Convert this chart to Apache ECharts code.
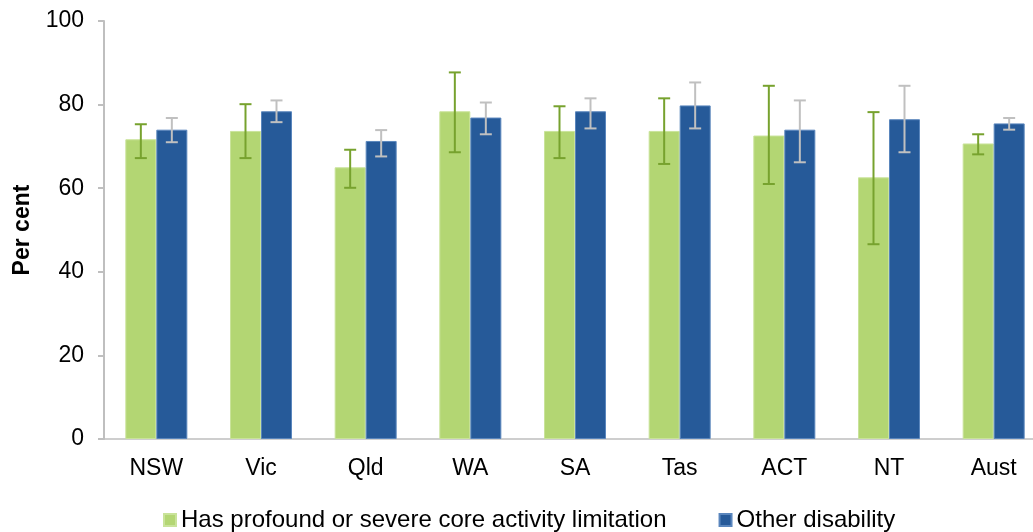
<!DOCTYPE html>
<html>
<head>
<meta charset="utf-8">
<script src="https://cdn.jsdelivr.net/npm/echarts@6/dist/echarts.min.js"></script>
<style>html,body{margin:0;padding:0;background:#fff;overflow:hidden;width:1033px;height:532px;}#c{width:1060px;height:532px;}</style>
</head>
<body>
<div id="c"></div>
<script>
const categories = ['NSW', 'Vic', 'Qld', 'WA', 'SA', 'Tas', 'ACT', 'NT', 'Aust'];
const profound = [71.7, 73.7, 65.0, 78.4, 73.7, 73.7, 72.6, 62.6, 70.7];
const profoundLow = [67.2, 67.2, 60.1, 68.6, 67.2, 65.8, 61.0, 46.6, 68.1];
const profoundHigh = [75.3, 80.1, 69.2, 87.7, 79.6, 81.5, 84.5, 78.2, 72.9];
const other = [74.0, 78.4, 71.3, 76.9, 78.4, 79.8, 74.0, 76.5, 75.5];
const otherLow = [71.0, 75.8, 67.6, 72.9, 74.3, 74.3, 66.2, 68.6, 74.0];
const otherHigh = [76.8, 81.0, 73.9, 80.5, 81.5, 85.3, 81.0, 84.5, 76.8];
const yTicks = [0, 20, 40, 60, 80, 100];

const BAR_W = 31;
const FONT = 'Liberation Sans, Arial, sans-serif';

function errData(low, high) {
  return categories.map((c, i) => [i, low[i], high[i]]);
}
function errRender(offset, color) {
  return function (params, api) {
    const i = api.value(0);
    const lo = api.coord([i, api.value(1)]);
    const hi = api.coord([i, api.value(2)]);
    const x = lo[0] + offset;
    const cap = 6;
    const style = { stroke: color, lineWidth: 2 };
    return {
      type: 'group',
      children: [
        { type: 'line', shape: { x1: x, y1: lo[1], x2: x, y2: hi[1] }, style: style },
        { type: 'line', shape: { x1: x - cap, y1: lo[1], x2: x + cap, y2: lo[1] }, style: style },
        { type: 'line', shape: { x1: x - cap, y1: hi[1], x2: x + cap, y2: hi[1] }, style: style }
      ]
    };
  };
}

const chart = echarts.init(document.getElementById('c'), null, { renderer: 'canvas' });
chart.setOption({
  animation: false,
  backgroundColor: '#ffffff',
  textStyle: { fontFamily: FONT },
  grid: { left: 104, top: 21, width: 942, height: 418, containLabel: false },
  legend: {
    data: ['Has profound or severe core activity limitation', 'Other disability'],
    left: 158,
    top: 503,
    icon: 'rect',
    itemWidth: 12,
    itemHeight: 12,
    itemGap: 52,
    textStyle: { fontFamily: FONT, fontSize: 24, color: '#000' }
  },
  xAxis: {
    type: 'category',
    data: categories,
    axisLine: { lineStyle: { color: '#bfbfbf', width: 1.5 } },
    axisTick: { show: false },
    axisLabel: { color: '#000', fontSize: 23, margin: 18, fontFamily: FONT }
  },
  yAxis: {
    type: 'value',
    min: 0,
    max: 100,
    interval: 20,
    name: 'Per cent',
    nameLocation: 'middle',
    nameGap: 70,
    nameTextStyle: { fontSize: 23, fontWeight: 'bold', color: '#000', fontFamily: FONT },
    axisLine: { show: true, lineStyle: { color: '#bfbfbf', width: 2 } },
    axisTick: { show: true, length: 6, lineStyle: { color: '#bfbfbf', width: 2 } },
    splitLine: { show: false },
    axisLabel: { color: '#000', fontSize: 23, margin: 20, fontFamily: FONT,
      formatter: v => yTicks.indexOf(v) >= 0 ? String(v) : '' }
  },
  series: [
    {
      name: 'Has profound or severe core activity limitation',
      type: 'bar',
      data: profound,
      barWidth: BAR_W,
      barGap: '0%',
      itemStyle: { color: '#b3d673', borderColor: '#c9e39a', borderWidth: 1 }
    },
    {
      name: 'Other disability',
      type: 'bar',
      data: other,
      barWidth: BAR_W,
      barGap: '0%',
      itemStyle: { color: '#265a99', borderColor: '#5a86bd', borderWidth: 1 }
    },
    {
      type: 'custom',
      name: 'errProfound',
      renderItem: errRender(-BAR_W / 2, '#77a22e'),
      data: errData(profoundLow, profoundHigh),
      encode: { x: 0, y: [1, 2] },
      z: 10,
      silent: true
    },
    {
      type: 'custom',
      name: 'errOther',
      renderItem: errRender(BAR_W / 2, '#c0c0c0'),
      data: errData(otherLow, otherHigh),
      encode: { x: 0, y: [1, 2] },
      z: 10,
      silent: true
    }
  ]
});
</script>
</body>
</html>
